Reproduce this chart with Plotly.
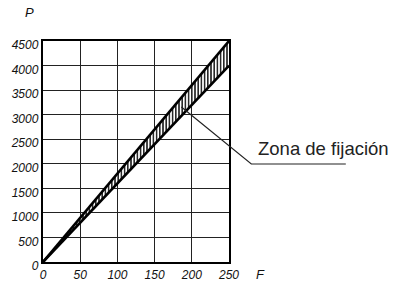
import plotly.graph_objects as go

# Data
force = [0, 250]
upper_p = [0, 4500]
lower_p = [0, 4000]
x_ticks = [0, 50, 100, 150, 200, 250]
y_ticks = [0, 500, 1000, 1500, 2000, 2500, 3000, 3500, 4000, 4500]
zone_label = "Zona de fijación"
# leader line points in data units (start inside zone, elbow, end)
leader_x = [186, 280, 407]
leader_y = [3155, 1995, 1995]

XMAX, YMAX = 250, 4500

fig = go.Figure()
fig.add_trace(go.Scatter(x=force, y=lower_p, mode="lines",
                         line=dict(color="black", width=2.6), hoverinfo="skip"))
fig.add_trace(go.Scatter(x=force, y=upper_p, mode="lines",
                         line=dict(color="black", width=2.6), fill="tonexty",
                         fillcolor="rgba(0,0,0,0)",
                         fillpattern=dict(shape="|", fgcolor="black", bgcolor="white",
                                          size=3.2, solidity=0.42, fgopacity=1),
                         hoverinfo="skip"))

sans = "Liberation Sans, Arial, sans-serif"
tickfont = dict(family=sans, size=12, color="#111")

fig.update_xaxes(range=[0, XMAX], tickvals=x_ticks,
                 ticktext=[f"<i>{v}</i>" for v in x_ticks],
                 showgrid=True, gridcolor="#222", gridwidth=1.3,
                 showline=True, linecolor="black", linewidth=2.4, mirror=True,
                 zeroline=False, ticks="", tickfont=tickfont, automargin=False)
fig.update_yaxes(range=[0, YMAX], tickvals=y_ticks,
                 ticktext=[f"<i>{v}</i>" for v in y_ticks],
                 showgrid=True, gridcolor="#222", gridwidth=1.3,
                 showline=True, linecolor="black", linewidth=2.4, mirror=True,
                 zeroline=False, ticks="", tickfont=tickfont, ticklabelshift=4,
                 ticklabelstandoff=0, automargin=False)

# leader polyline in paper coords
px = [v / XMAX for v in leader_x]
py = [v / YMAX for v in leader_y]
path = f"M {px[0]} {py[0]} L {px[1]} {py[1]} L {px[2]} {py[2]}"
fig.add_shape(type="path", path=path, xref="paper", yref="paper",
              line=dict(color="#222", width=1.2))

fig.add_annotation(text=zone_label, xref="paper", yref="paper",
                   x=px[1] + 0.025, y=py[1] + 0.015, xanchor="left", yanchor="bottom",
                   showarrow=False,
                   font=dict(family=sans, size=18.5, color="#222"))
fig.add_annotation(text="<i>P</i>", xref="paper", yref="paper", x=-0.075, y=1.13,
                   xanchor="center", yanchor="middle",
                   showarrow=False, font=dict(family=sans, size=13, color="#111"))
fig.add_annotation(text="<i>F</i>", xref="paper", yref="paper", x=1.167, y=-0.058,
                   xanchor="center", yanchor="middle",
                   showarrow=False, font=dict(family=sans, size=13, color="#111"))

fig.update_layout(width=403, height=281, showlegend=False,
                  margin=dict(l=43, r=174, t=41, b=19),
                  plot_bgcolor="white", paper_bgcolor="white")

fig.write_html("out.html", config={"displayModeBar": False},
               post_script="document.body.style.margin='0';")
